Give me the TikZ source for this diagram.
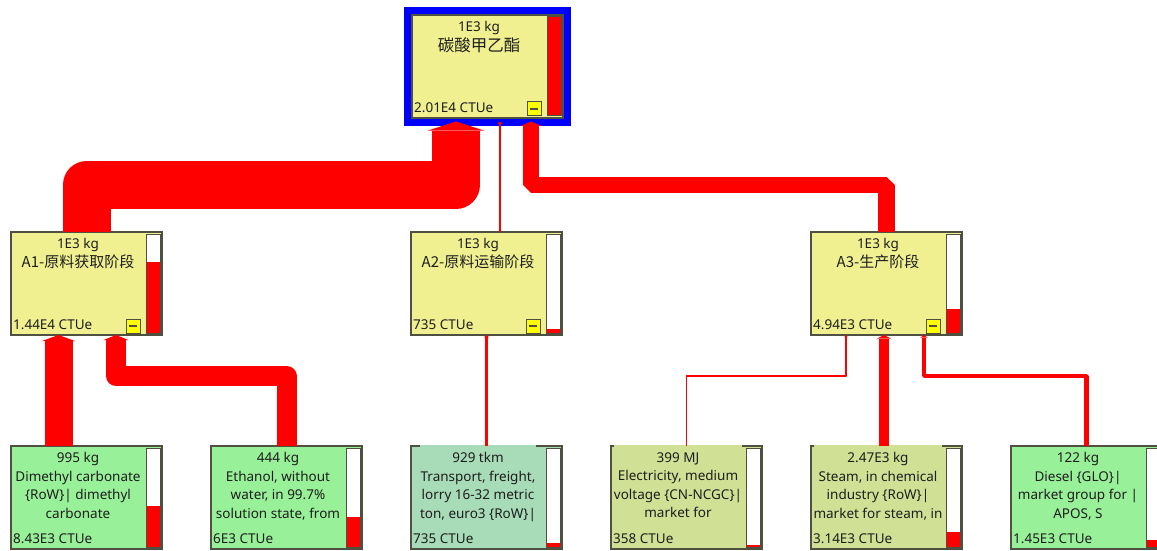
\documentclass[tikz,border=0pt]{standalone}
\usepackage{fontspec}
\setmainfont{Noto Sans}
\newfontfamily\cjk{Noto Sans CJK SC}
\usetikzlibrary{positioning,arrows.meta}
\definecolor{boxYellow}{RGB}{240,240,144}
\definecolor{boxGreen}{RGB}{152,240,152}
\definecolor{boxTeal}{RGB}{168,220,184}
\definecolor{boxOlive}{RGB}{208,224,148}
\definecolor{boxLine}{RGB}{80,80,64}
\definecolor{flowRed}{RGB}{255,0,0}
\definecolor{selBlue}{RGB}{0,0,255}
\definecolor{btnYellow}{RGB}{255,255,0}
\definecolor{txtGray}{RGB}{30,30,30}

% process box: placement, name, fill, title, score, gauge fraction, title opts, score opts
\newcommand{\procbox}[8]{%
  \node[procnode, fill=#3, #1] (#2) {};
  \fill[white] ([shift={(-16pt,2pt)}]#2.south east) rectangle ([shift={(-2pt,-2pt)}]#2.north east);
  \fill[flowRed] ([shift={(-16pt,2pt)}]#2.south east) rectangle ([shift={(-2pt,2pt+#6*99pt)}]#2.south east);
  \draw[gauge] ([shift={(-16pt,2pt)}]#2.south east) rectangle ([shift={(-2pt,-2pt)}]#2.north east);
  \node[boxtitle, below=6.5pt of #2.north west, xshift=67pt, #7] (#2-t) {#4};
  \node[boxscore, above right=5.5pt and 2pt of #2.south west, #8] (#2-v) {#5};
}
% collapse button
\newcommand{\minusbtn}[1]{%
  \draw[btn] ([shift={(-36pt,2pt)}]#1.south east) rectangle ([shift={(-22pt,16pt)}]#1.south east);
  \draw[boxLine, line width=1.2pt] ([shift={(-33pt,9pt)}]#1.south east) -- ([shift={(-25pt,9pt)}]#1.south east);
}

\begin{document}
\begin{tikzpicture}[
    procnode/.style = {rectangle, draw=boxLine, line width=1.3pt, minimum width=151pt, minimum height=103pt, inner sep=0pt, outer sep=0pt},
    boxtitle/.style = {align=center, inner sep=0pt, text=txtGray, font=\fontsize{13.5}{18.5}\selectfont},
    boxscore/.style = {inner sep=0pt, text=txtGray, font=\fontsize{13.5}{16}\selectfont},
    gauge/.style = {draw=boxLine, line width=1pt},
    btn/.style = {draw=boxLine, fill=btnYellow, line width=1pt},
    selframe/.style = {draw=selBlue, line width=7pt},
    mask/.style = {fill=#1, inner ysep=8pt, yshift=8pt},
    smask/.style = {fill=#1, inner sep=1.5pt, xshift=-1.5pt, yshift=-1.5pt},
    flow/.style = {draw=flowRed, line width=#1, line join=round, -{Triangle[width=2pt 1.15, length=2pt 0.15, line width=0pt 0]}}
]
    \path[use as bounding box, clip] (0,0) rectangle (1157pt,550pt);

    % Stages
    \procbox{at={(86.5pt,266.5pt)}}{a1}{boxYellow}{1E3 kg\\{\cjk\fontsize{15}{18.5}\selectfont A1-原料获取阶段}}{1.44E4 CTUe}{0.716}{}{}
    \procbox{right=249pt of a1}{a2}{boxYellow}{1E3 kg\\{\cjk\fontsize{15}{18.5}\selectfont A2-原料运输阶段}}{735 CTUe}{0.037}{}{}
    \procbox{right=249pt of a2}{a3}{boxYellow}{1E3 kg\\{\cjk\fontsize{15}{18.5}\selectfont A3-生产阶段}}{4.94E3 CTUe}{0.246}{}{}
    \procbox{above=114pt of a2, xshift=1pt}{top}{boxYellow}{1E3 kg\\[1.5pt]{\cjk\fontsize{16.5}{18}\selectfont 碳酸甲乙酯}}{2.01E4 CTUe}{1}{}{}
    \draw[selframe] ([shift={(-4.15pt,-4.15pt)}]top.south west) rectangle ([shift={(4.15pt,4.15pt)}]top.north east);
    \minusbtn{top}
    \minusbtn{a1}
    \minusbtn{a2}
    \minusbtn{a3}

    % Inputs
    \procbox{below=111pt of a1}{dmc}{boxGreen}{995 kg\\Dimethyl carbonate\\\{RoW\}| dimethyl\\carbonate}{8.43E3 CTUe}{0.419}{}{}
    \procbox{right=49pt of dmc}{eth}{boxGreen}{444 kg\\Ethanol, without\\water, in 99.7\%\\solution state, from}{6E3 CTUe}{0.299}{}{}
    \procbox{right=49pt of eth}{lorry}{boxTeal}{929 tkm\\Transport, freight,\\lorry 16-32 metric\\ton, euro3 \{RoW\}|}{735 CTUe}{0.037}{mask=boxTeal}{smask=boxTeal}
    \procbox{right=49pt of lorry}{elec}{boxOlive}{399 MJ\\Electricity, medium\\voltage \{CN-NCGC\}|\\market for}{358 CTUe}{0.018}{mask=boxOlive}{smask=boxOlive}
    \procbox{right=49pt of elec}{steam}{boxOlive}{2.47E3 kg\\Steam, in chemical\\industry \{RoW\}|\\market for steam, in}{3.14E3 CTUe}{0.156}{mask=boxOlive}{smask=boxOlive}
    \procbox{right=49pt of steam}{diesel}{boxGreen}{122 kg\\Diesel \{GLO\}|\\market group for |\\APOS, S}{1.45E3 CTUe}{0.072}{}{}

    % Flows
    \draw[flow=48pt] (a1.north) -- ++(0,47pt) -| ([xshift=-31.5pt,yshift=-3.5pt]top.south);
    \draw[flow=2.4pt] ([xshift=13.5pt]a2.north) -- ([xshift=12.5pt,yshift=-3.5pt]top.south);
    \draw[flow=16.5pt, line join=bevel] (a3.north) -- ++(0,47pt) -| ([xshift=43.5pt,yshift=-3.5pt]top.south);
    \draw[flow=28pt] ([xshift=-28pt]dmc.north) -- ([xshift=-28pt]a1.south);
    \draw[flow=20pt] (eth.north) -- ++(0,70pt) -| ([xshift=29.5pt]a1.south);
    \draw[flow=2.4pt] (lorry.north) -- (a2.south);
    \draw[flow=1.2pt] (elec.north) -- ++(0,70pt) -| ([xshift=-40.5pt]a3.south);
    \draw[flow=10.5pt] ([xshift=-2.5pt]steam.north) -- ([xshift=-2.5pt]a3.south);
    \draw[flow=4.8pt, line join=bevel] (diesel.north) -- ++(0,70pt) -| ([xshift=37.5pt]a3.south);
\end{tikzpicture}
\end{document}
